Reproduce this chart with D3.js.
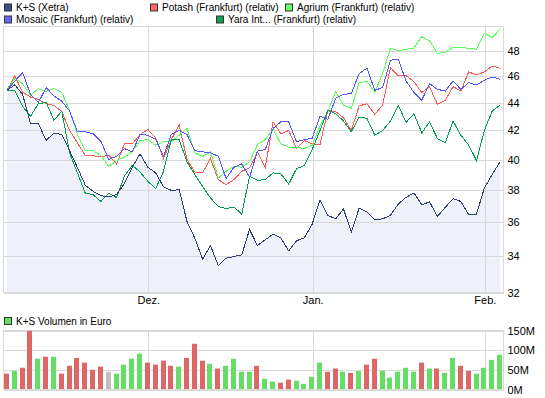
<!DOCTYPE html>
<html>
<head>
<meta charset="utf-8">
<script src="https://cdn.jsdelivr.net/npm/d3@7"></script>
<style>
  body { margin: 0; background: #fff; }
  svg { display: block; font-family: "Liberation Sans", Arial, sans-serif; font-size: 11px; }
</style>
</head>
<body>
<svg id="chart" width="545" height="398"></svg>
<script>
// trading days, Xetra
const dates = [
  '2011-11-07','2011-11-08','2011-11-09','2011-11-10','2011-11-11','2011-11-14','2011-11-15','2011-11-16',
  '2011-11-17','2011-11-18','2011-11-21','2011-11-22','2011-11-23','2011-11-24','2011-11-25','2011-11-28',
  '2011-11-29','2011-11-30','2011-12-01','2011-12-02','2011-12-05','2011-12-06','2011-12-07','2011-12-08',
  '2011-12-09','2011-12-12','2011-12-13','2011-12-14','2011-12-15','2011-12-16','2011-12-19','2011-12-20',
  '2011-12-21','2011-12-22','2011-12-23','2011-12-27','2011-12-28','2011-12-29','2011-12-30','2012-01-02',
  '2012-01-03','2012-01-04','2012-01-05','2012-01-06','2012-01-09','2012-01-10','2012-01-11','2012-01-12',
  '2012-01-13','2012-01-16','2012-01-17','2012-01-18','2012-01-19','2012-01-20','2012-01-23','2012-01-24',
  '2012-01-25','2012-01-26','2012-01-27','2012-01-30','2012-01-31','2012-02-01','2012-02-02','2012-02-03'
];

const ksXetra = [44.89, 45.30, 44.58, 42.46, 42.46, 41.26, 41.79, 41.68, 40.57, 39.43,
  38.28, 37.89, 37.61, 37.53, 37.68, 38.38, 39.43, 40.35, 39.45, 39.08,
  38.17, 37.95, 37.99, 36.02, 35.03, 33.81, 34.59, 33.45, 33.87, 33.96,
  34.06, 35.54, 34.59, 34.93, 35.26, 35.03, 34.29, 34.87, 35.05, 35.86,
  37.36, 36.39, 36.18, 36.78, 35.38, 36.84, 36.59, 36.12, 36.18, 36.39,
  37.09, 37.51, 37.78, 37.05, 37.22, 36.33, 36.88, 37.42, 37.25, 36.43,
  36.47, 38.10, 38.97, 39.81];

const potash = [44.89, 45.98, 44.74, 44.38, 44.21, 43.89, 43.77, 43.31, 41.96, 41.10,
  40.23, 40.23, 40.13, 40.27, 39.67, 41.02, 41.02, 41.68, 42.03, 41.45,
  40.03, 41.33, 42.34, 39.96, 39.14, 39.08, 40.03, 38.64, 38.32, 38.64,
  39.18, 39.41, 40.46, 39.41, 42.58, 41.73, 41.96, 40.71, 41.26, 41.03,
  40.98, 43.40, 43.31, 42.87, 41.96, 43.72, 43.89, 43.11, 43.79, 46.63,
  45.98, 46.00, 45.55, 44.72, 45.14, 43.84, 44.14, 45.16, 44.83, 46.29,
  46.06, 46.29, 46.76, 46.58];

const agrium = [44.89, 45.80, 45.38, 44.51, 45.00, 44.81, 45.01, 44.72, 43.40, 41.68,
  40.57, 40.57, 40.23, 39.51, 39.88, 40.13, 40.48, 41.26, 41.33, 40.94,
  41.17, 41.17, 41.63, 42.10, 40.42, 40.17, 40.48, 38.75, 39.18, 39.51,
  39.45, 39.81, 40.98, 41.33, 42.03, 41.03, 40.80, 40.80, 40.71, 40.94,
  42.27, 43.31, 44.79, 43.79, 43.55, 45.47, 45.57, 44.74, 46.17, 48.18,
  47.96, 48.09, 48.18, 49.12, 48.77, 47.76, 47.83, 48.23, 48.23, 48.17,
  48.09, 49.39, 49.05, 49.74];

const mosaic = [44.89, 45.59, 46.24, 44.58, 43.97, 45.09, 44.46, 44.08, 43.35, 41.87,
  41.87, 41.73, 41.21, 39.96, 40.19, 40.71, 40.48, 41.68, 41.63, 41.33,
  40.19, 41.68, 41.96, 41.68, 40.57, 40.48, 40.42, 40.19, 38.71, 39.45,
  39.67, 38.79, 40.53, 40.64, 42.10, 42.58, 42.58, 41.17, 41.33, 41.40,
  42.99, 42.75, 44.29, 44.58, 44.64, 46.17, 46.58, 44.89, 45.09, 47.21,
  47.29, 45.59, 44.72, 44.14, 45.40, 44.96, 44.83, 45.59, 44.96, 45.47,
  45.29, 45.65, 45.90, 45.73];

const yara = [44.89, 44.89, 43.69, 42.96, 43.88, 43.99, 42.68, 43.35, 40.42, 39.08,
  37.78, 37.68, 37.25, 37.77, 37.49, 38.86, 39.58, 39.14, 38.53, 38.06,
  39.18, 41.33, 41.33, 39.81, 38.97, 38.19, 37.47, 36.94, 36.80, 36.90,
  36.47, 38.86, 38.59, 38.64, 39.08, 39.01, 38.36, 39.36, 39.56, 40.64,
  41.96, 43.40, 43.16, 42.63, 41.87, 42.91, 42.82, 41.63, 41.96, 42.63,
  43.77, 42.53, 43.16, 41.80, 42.55, 41.40, 41.10, 42.63, 41.63, 40.94,
  39.90, 41.96, 43.35, 43.79];

// K+S volume in million euro, and the day's direction
const volume = [39, 46, 54, 148, 77, 82, 82, 39, 59, 79,
  67, 49, 57, 44, 39, 62, 77, 90, 67, 62,
  72, 59, 57, 79, 115, 72, 64, 52, 59, 77,
  44, 44, 59, 26, 19, 16, 24, 21, 13, 31,
  67, 44, 52, 44, 41, 46, 62, 77, 46, 29,
  44, 54, 44, 67, 52, 52, 41, 79, 59, 46,
  39, 54, 74, 87];
const direction = ['d','u','d','d','u','d','u','d','d','d',
  'd','d','d','f','u','u','u','u','d','d',
  'd','d','u','d','d','d','u','d','u','u',
  'u','u','d','u','u','d','d','u','u','u',
  'u','d','d','u','d','u','d','d','u','u',
  'u','u','u','d','u','d','u','u','d','d',
  'u','u','u','u'];

const seriesNames = ['K+S (Xetra)', 'Potash (Frankfurt) (relativ)', 'Agrium (Frankfurt) (relativ)',
  'Mosaic (Frankfurt) (relativ)', 'Yara Int... (Frankfurt) (relativ)'];
const seriesValues = [ksXetra, potash, agrium, mosaic, yara];
const seriesColors = ['#2d3f78', '#ff5555', '#55ff55', '#5555ff', '#009f50'];
const legendColors = ['#3b4f88', '#ff6666', '#66ff66', '#6666ff', '#11a055'];

const priceTicks = [32, 34, 36, 38, 40, 42, 44, 46, 48];
const volumeTicks = [0, 50, 100, 150];
const monthTicks = ['2011-12-01', '2012-01-02', '2012-02-01'];
const monthLabels = ['Dez.', 'Jan.', 'Feb.'];

const svg = d3.select('#chart');
const gridColor = '#d9d9d9';

let plotL = 3, plotR = 503;
let priceT = 26, priceB = 292;
let volT = 330, volB = 389;

let x = d3.scalePoint().domain(dates).range([7, 500]);
let y = d3.scaleLog().domain([32, 50]).range([priceB, priceT]);
let yv = d3.scaleLinear().domain([0, 150]).range([volB, volT]);

function frame(top, bottom) {
  svg.append('rect')
    .attr('x', plotL + 0.5).attr('y', top + 0.5)
    .attr('width', plotR - plotL).attr('height', bottom - top)
    .attr('fill', 'none').attr('stroke', gridColor);
}

function styleAxis(g) {
  g.select('.domain').remove();
  g.selectAll('.tick line').attr('stroke', gridColor).attr('shape-rendering', 'crispEdges');
  g.selectAll('.tick text').attr('fill', '#000').style('font-size', '11px')
    .style('font-family', '"Liberation Sans", Arial, sans-serif');
}

function legendItem(px, py, color, label) {
  let g = svg.append('g').attr('transform', `translate(${px},${py})`);
  g.append('rect').attr('x', 0.5).attr('y', -3.5).attr('width', 7).attr('height', 7)
    .attr('fill', color).attr('stroke', '#333');
  g.append('text').attr('x', 12).attr('y', 3.6).style('font-size', '10px').text(label);
}

// ---- price panel
let area = d3.area()
  .x((d, i) => x(dates[i]))
  .y0(priceB)
  .y1(d => y(d));

svg.append('path')
  .datum(ksXetra)
  .attr('fill', '#eef1fa')
  .attr('d', area);

svg.append('g')
  .attr('transform', `translate(${plotR + 0.5},0.5)`)
  .call(d3.axisRight(y).tickValues(priceTicks).tickFormat(d3.format('d'))
    .tickSizeInner(-(plotR - plotL)).tickSizeOuter(0).tickPadding(4))
  .call(styleAxis);

svg.append('g')
  .attr('transform', `translate(0.5,${priceB + 0.5})`)
  .call(d3.axisBottom(x).tickValues(monthTicks).tickFormat((d, i) => monthLabels[i])
    .tickSizeInner(-(priceB - priceT)).tickSizeOuter(0).tickPadding(4))
  .call(styleAxis);

frame(priceT, priceB);

let line = d3.line()
  .x((d, i) => x(dates[i]))
  .y(d => y(d));

// draw K+S last so it sits on top
[1, 2, 3, 4, 0].forEach(k => {
  svg.append('path')
    .datum(seriesValues[k])
    .attr('fill', 'none')
    .attr('stroke', seriesColors[k])
    .attr('stroke-width', 1)
    .attr('shape-rendering', 'crispEdges')
    .attr('d', line);
});

// ---- legend
let legendPos = [[4, 7.5], [150, 7.5], [285, 7.5], [4, 19.5], [216, 19.5]];
seriesNames.forEach((name, k) => legendItem(legendPos[k][0], legendPos[k][1], legendColors[k], name));

// ---- volume panel
svg.append('g')
  .attr('transform', `translate(${plotR + 0.5},0.5)`)
  .call(d3.axisRight(yv).tickValues(volumeTicks).tickFormat(d => d + 'M')
    .tickSizeInner(-(plotR - plotL)).tickSizeOuter(0).tickPadding(4))
  .call(styleAxis);

svg.append('g')
  .attr('transform', `translate(0.5,${volB + 0.5})`)
  .call(d3.axisBottom(x).tickValues(monthTicks).tickFormat('')
    .tickSizeInner(-(volB - volT)).tickSizeOuter(0))
  .call(styleAxis);

frame(volT, volB);

const barColor = { u: '#66dd66', d: '#dd6666', f: '#c0c0c0' };
svg.append('g')
  .selectAll('rect')
  .data(volume)
  .join('rect')
  .attr('x', (d, i) => Math.round(x(dates[i])) - 3)
  .attr('y', d => yv(d))
  .attr('width', 5)
  .attr('height', d => volB - yv(d))
  .attr('fill', (d, i) => barColor[direction[i]]);

legendItem(4, 321, '#66dd66', 'K+S Volumen in Euro');
</script>
</body>
</html>
